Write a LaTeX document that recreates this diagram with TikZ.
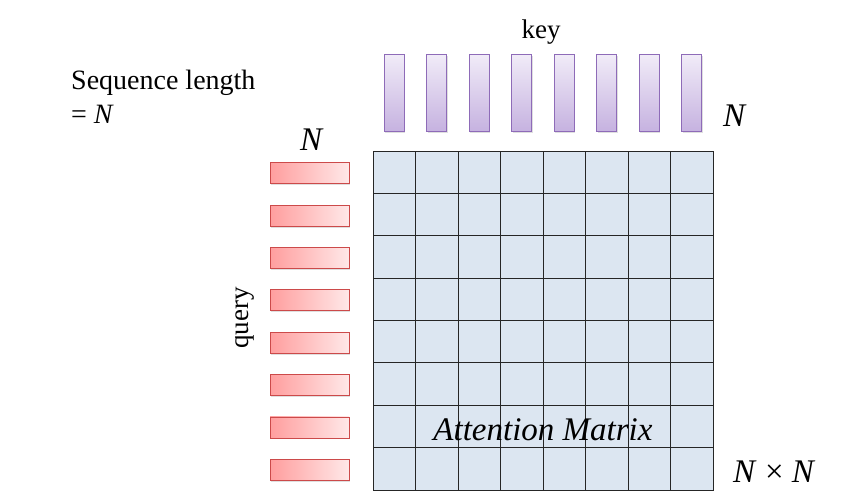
\documentclass[tikz,border=0pt]{standalone}
\usepackage{fontspec}
\setmainfont{Liberation Serif}
\usetikzlibrary{positioning, shadows}
\definecolor{ktop}{HTML}{F1ECF8}
\definecolor{kbot}{HTML}{C6B2E0}
\definecolor{kline}{HTML}{8E6BB8}
\definecolor{qleft}{HTML}{FF9E9E}
\definecolor{qright}{HTML}{FFE8E8}
\definecolor{qline}{HTML}{CC4A4A}
\definecolor{cellblue}{HTML}{DCE6F1}
\definecolor{gridgrey}{HTML}{262626}
\newcommand{\nvar}{\textit{N}}
\tikzset{
  keybar/.style={draw=kline, top color=ktop, bottom color=kbot, line width=0.9pt,
    minimum width=20pt, minimum height=77pt, inner sep=0pt,
    drop shadow={shadow xshift=1.2pt, shadow yshift=-1.5pt, opacity=0.25}},
  qbar/.style={draw=qline, left color=qleft, right color=qright, line width=0.9pt,
    minimum width=79pt, minimum height=21pt, inner sep=0pt,
    drop shadow={shadow xshift=1.2pt, shadow yshift=-1.5pt, opacity=0.25}},
  lbl/.style={font=\fontsize{27}{34}\selectfont, inner sep=0pt},
  dim/.style={font=\fontsize{33}{36}\selectfont, inner sep=0pt},
}
\begin{document}
\begin{tikzpicture}[x=1pt, y=-1pt]
  \useasboundingbox (0,0) rectangle (851,498);
  % attention matrix, 8 x 8 cells
  \node[draw=gridgrey, fill=cellblue, line width=0.9pt, minimum width=340pt,
    minimum height=339pt, inner sep=0pt] (att) at (543,320.5) {};
  \foreach \i in {1,...,7} {
    \draw[gridgrey, line width=0.9pt] (373+42.5*\i,151) -- ++(0,339);
    \draw[gridgrey, line width=0.9pt] (373,151+42.375*\i) -- ++(340,0);
  }
  % key vectors
  \foreach \i in {1,...,8}
    \node[keybar] (k\i) at (394.25+42.5*\i-42.5,92.5) {};
  % query vectors
  \foreach \i in {1,...,8}
    \node[qbar] (q\i) at (309.5,173.2+42.375*\i-42.375) {};
  % labels
  \node[lbl, anchor=base] (keylbl) at (541,38) {key};
  \node[lbl, rotate=90] (querylbl) at (245,318) {query};
  \node[lbl, font=\fontsize{28}{34}\selectfont, align=left, anchor=base west]
    (seqlbl) at (71,123) {Sequence length\\= \textit{N}};
  \node[dim, anchor=base] (nq) at (312,150) {\nvar};
  \node[dim, anchor=base west] (nk) at (723,126) {\nvar};
  \node[dim, anchor=base west] (nn) at (733,482) {\nvar\ × \nvar};
  \node[font=\fontsize{33}{36}\selectfont\itshape, inner sep=0pt, anchor=base]
    (attlbl) at (543,440) {Attention Matrix};
\end{tikzpicture}
\end{document}
